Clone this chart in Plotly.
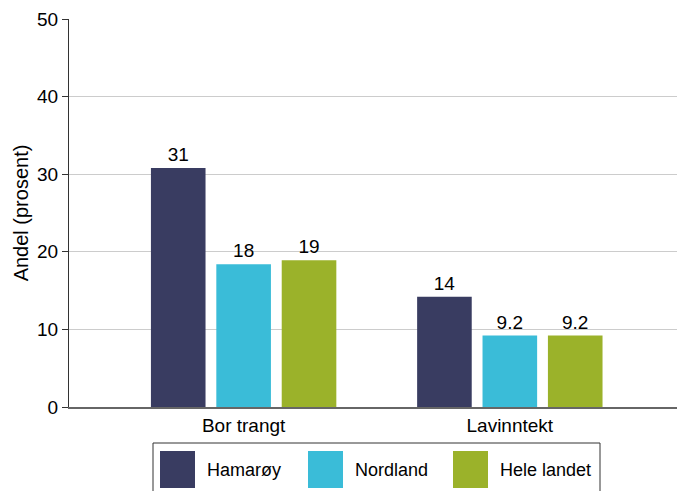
import plotly.graph_objects as go

categories = ["Bor trangt", "Lavinntekt"]
series_names = ["Hamarøy", "Nordland", "Hele landet"]
values = {
    "Hamarøy": [30.8, 14.2],
    "Nordland": [18.4, 9.2],
    "Hele landet": [18.9, 9.2],
}
labels = {
    "Hamarøy": ["31", "14"],
    "Nordland": ["18", "9.2"],
    "Hele landet": ["19", "9.2"],
}
colors = ["#393c61", "#3abcd8", "#9bb22a"]
y_ticks = [0, 10, 20, 30, 40, 50]

W, H = 677, 491
L, R, T, B = 69, 0, 19, 84
PW, PH = W - L - R, H - T - B
FONT = "Arial, Liberation Sans, sans-serif"


def px(x):
    return (x - L) / PW


def py(y):
    return (H - B - y) / PH


fig = go.Figure()
for name, col in zip(series_names, colors):
    fig.add_trace(go.Bar(
        x=categories, y=values[name], name=name,
        marker=dict(color=col, line=dict(width=0)),
        text=labels[name], textposition="outside",
        textfont=dict(size=19, color="#000000", family=FONT),
        cliponaxis=False, showlegend=False, hoverinfo="skip",
    ))

# manual legend (box + swatches + names)
shapes = [dict(type="rect", xref="paper", yref="paper",
               x0=px(153), x1=px(600), y0=py(497), y1=py(443),
               line=dict(color="#333333", width=1), fillcolor="rgba(0,0,0,0)")]
annotations = []
sw_x = [160, 308, 453]
for i, (name, col) in enumerate(zip(series_names, colors)):
    shapes.append(dict(type="rect", xref="paper", yref="paper",
                       x0=px(sw_x[i]), x1=px(sw_x[i] + 35), y0=py(488), y1=py(451),
                       line=dict(width=0), fillcolor=col))
    annotations.append(dict(xref="paper", yref="paper", x=px(sw_x[i] + 45), y=py(470),
                            text=name, showarrow=False, xanchor="left", yanchor="middle",
                            font=dict(size=18, color="#000000", family=FONT)))

fig.update_layout(
    width=W, height=H,
    margin=dict(l=L, r=R, t=T, b=B),
    paper_bgcolor="#ffffff", plot_bgcolor="#ffffff",
    barmode="group", bargap=0.263, bargroupgap=0.165,
    font=dict(family=FONT, color="#000000", size=19),
    shapes=shapes, annotations=annotations,
    xaxis=dict(range=[-0.656, 1.628], showline=True, linecolor="#666666", linewidth=2,
               ticks="", tickfont=dict(size=19, color="#000000"), fixedrange=True),
    yaxis=dict(range=[0, 50], tickvals=y_ticks, showgrid=True, gridcolor="#cccccc",
               gridwidth=1, showline=True, linecolor="#333333", linewidth=1,
               ticks="outside", ticklen=6, tickcolor="#333333",
               tickfont=dict(size=19, color="#000000"), zeroline=False, fixedrange=True,
               title=dict(text="Andel (prosent)", font=dict(size=20, color="#000000"), standoff=3)),
)

fig.write_html(
    "out.html",
    config={"displayModeBar": False},
    post_script="document.body.style.margin='0';document.body.style.overflow='hidden';",
)
